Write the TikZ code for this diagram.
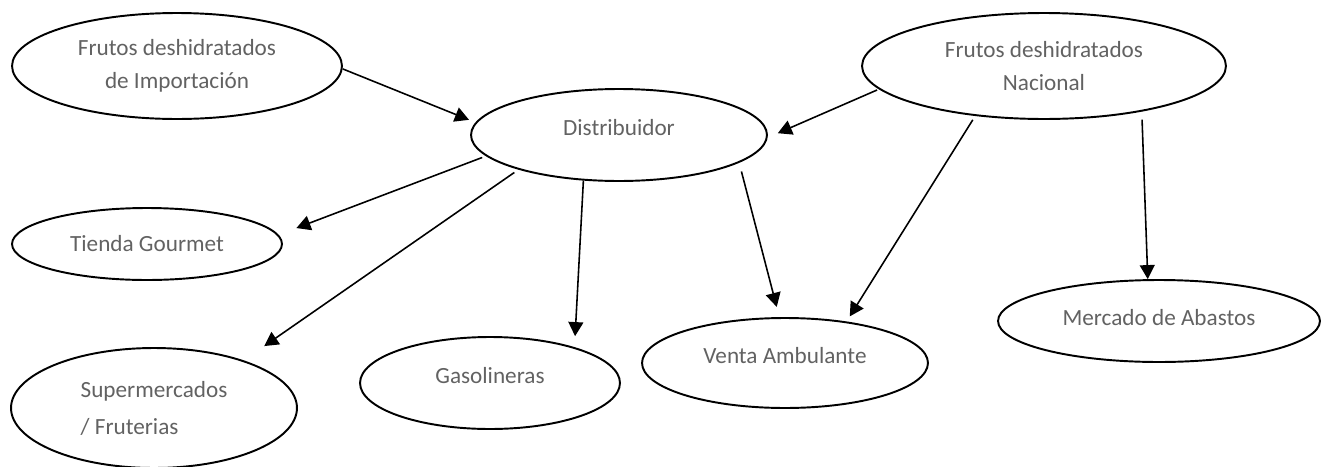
\documentclass[tikz,border=0pt]{standalone}
\usepackage{fontspec}
\setmainfont{Carlito}
\usepackage{tikz}
\usetikzlibrary{arrows.meta,shapes.geometric}
\definecolor{txtgray}{RGB}{98,98,98}

\begin{document}
\begin{tikzpicture}[x=0.02cm,y=-0.02cm,
    bubble/.style={ellipse,draw,line width=1.1pt,inner sep=0pt,text=txtgray,
        font=\fontsize{13.2}{18.5}\selectfont},
    lift/.style={text depth=#1},
    flow/.style={line width=0.9pt,-{Triangle[length=8pt,width=8.5pt]}}]
\useasboundingbox (0,0) rectangle (1330,467);
\node (imp)    at (177,66)  [bubble,minimum width=6.6cm,minimum height=2.12cm,align=center] {Frutos deshidratados\\de Importación};
\node (nac)    at (1044,66) [bubble,minimum width=7.28cm,minimum height=2.12cm,align=center] {Frutos deshidratados\\Nacional};
\node (dist)   at (619,135) [bubble,minimum width=5.92cm,minimum height=1.84cm,lift=9pt] {Distribuidor};
\node (tienda) at (147,244) [bubble,minimum width=5.4cm,minimum height=1.44cm] {Tienda Gourmet};
\node (super)  at (154,408) [bubble,minimum width=5.72cm,minimum height=2.4cm,align=left] {Supermercados\\[2.5pt]/ Fruterias};
\node (gas)    at (490,383) [bubble,minimum width=5.2cm,minimum height=1.84cm,lift=9pt] {Gasolineras};
\node (venta)  at (785,363) [bubble,minimum width=5.72cm,minimum height=1.8cm,lift=9pt] {Venta Ambulante};
\node (merc)   at (1159,321) [bubble,minimum width=6.44cm,minimum height=1.64cm,lift=4.5pt] {Mercado de Abastos};
% suppliers to the distributor
\draw [flow,shorten >=0.14cm] (imp.-1) -- (dist.175);
\draw [flow,shorten <=0.04cm,shorten >=0.22cm] (nac.188) -- (dist.-1);
% distributor to the outlets
\draw [flow,shorten <=0.08cm,shorten >=0.38cm] (dist.189) -- (tienda.4);
\draw [flow,shorten <=0.1cm,shorten >=0.5cm] (dist.199) -- (super.28);
\draw [flow,shorten >=0.22cm] (dist.232) -- (gas.23);
\draw [flow,shorten <=0.18cm,shorten >=0.21cm] (dist.-13) -- (venta.97);
% national produce sold directly
\draw [flow,shorten <=0.09cm,shorten >=0.12cm] (nac.216) -- (venta.34);
\draw [flow,shorten <=0.16cm] (nac.-25) -- (merc.105);
\end{tikzpicture}
\end{document}
